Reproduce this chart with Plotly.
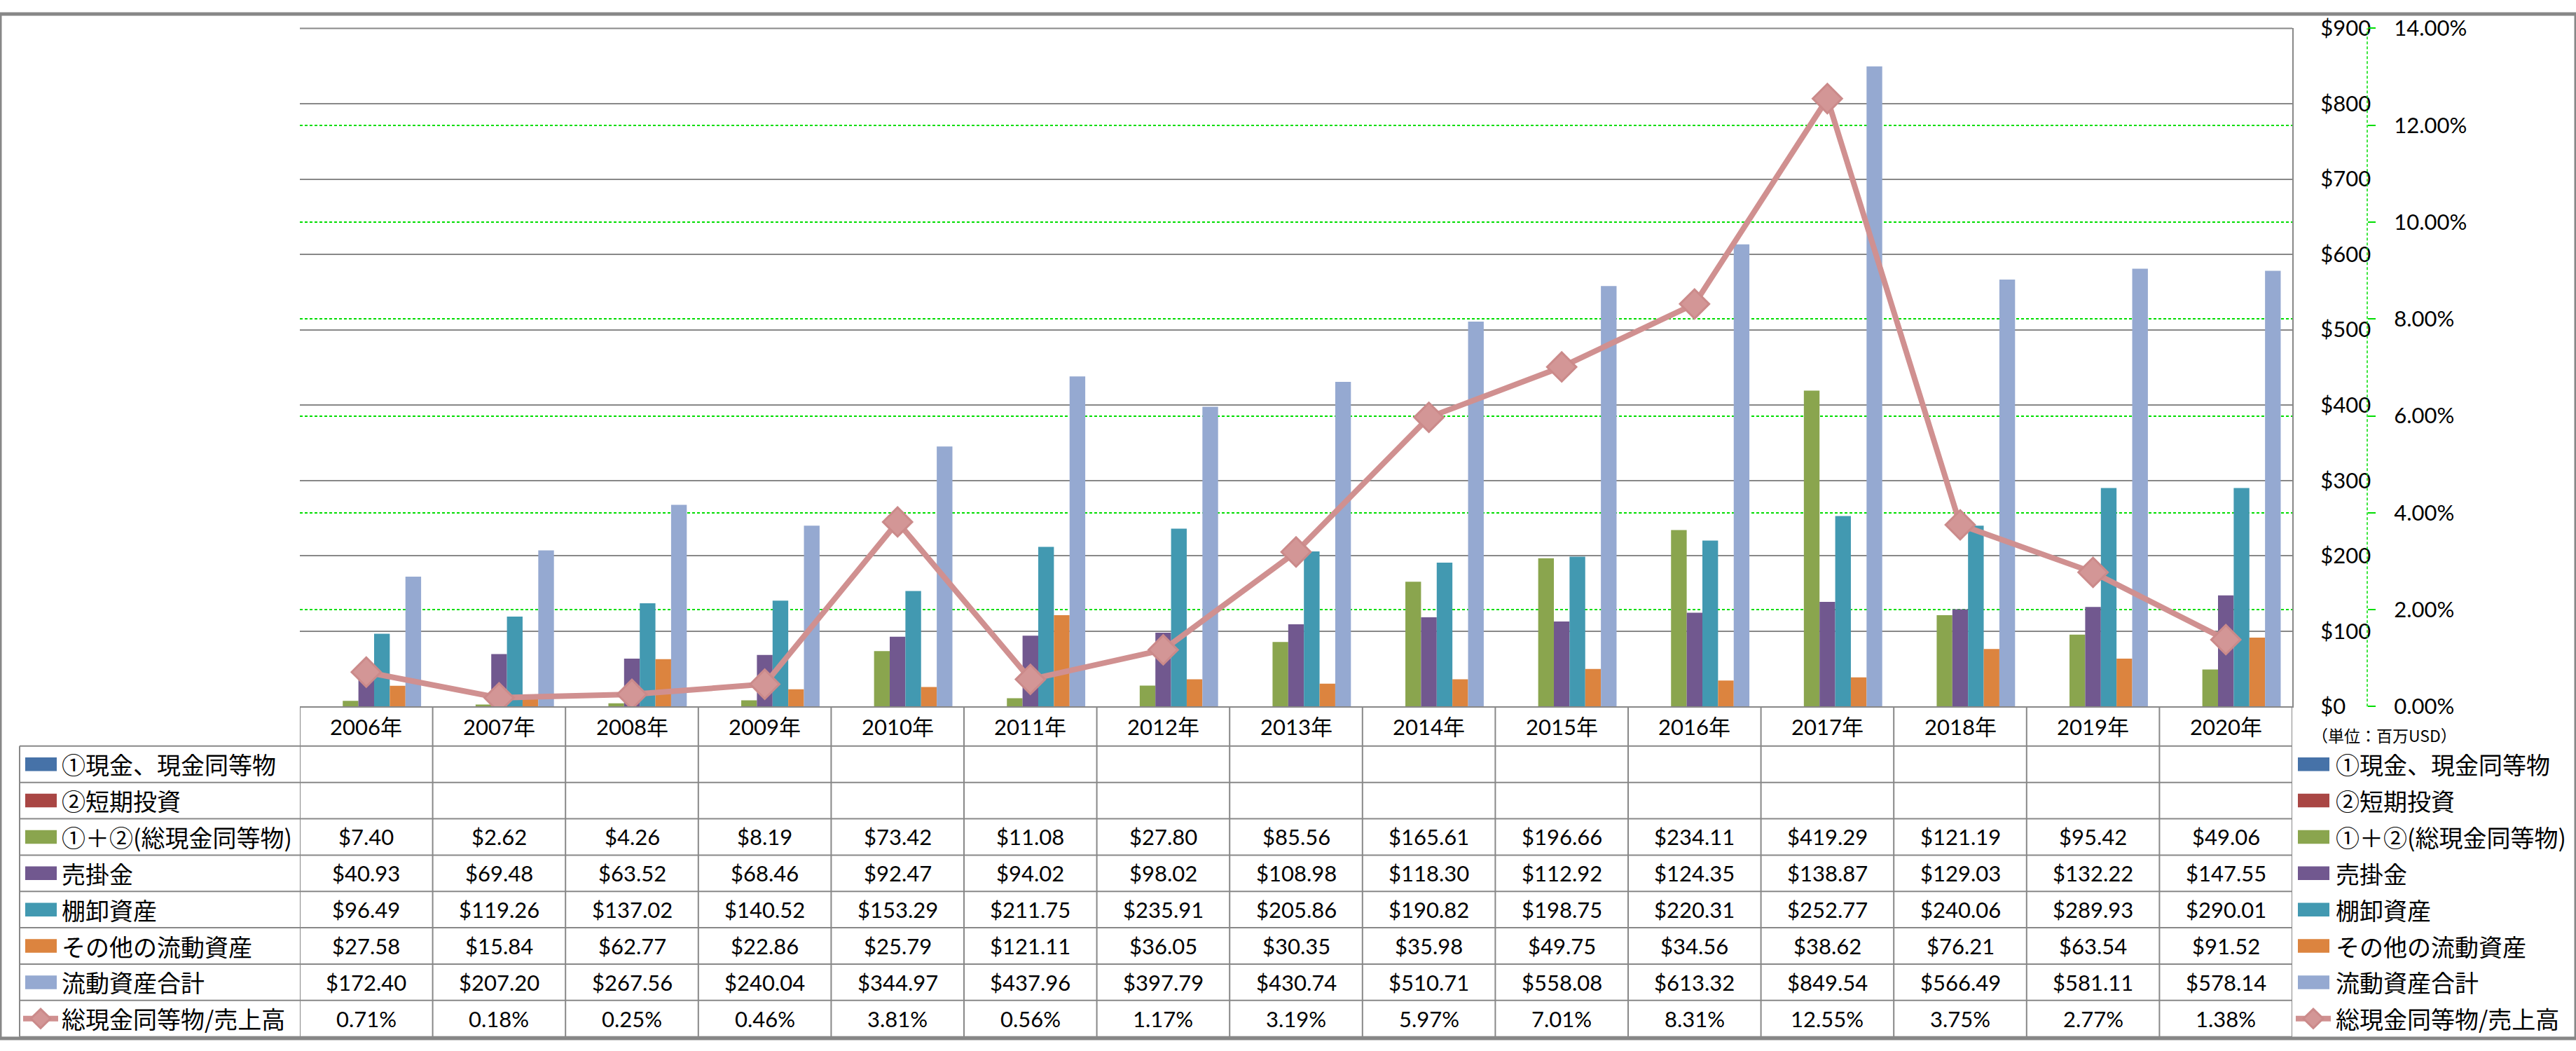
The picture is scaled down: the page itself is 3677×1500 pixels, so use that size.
import plotly.graph_objects as go

# ---------------- data ----------------
years = ["2006年", "2007年", "2008年", "2009年", "2010年", "2011年", "2012年", "2013年",
         "2014年", "2015年", "2016年", "2017年", "2018年", "2019年", "2020年"]

series_names = ["①現金、現金同等物", "②短期投資", "①＋②(総現金同等物)", "売掛金",
                "棚卸資産", "その他の流動資産", "流動資産合計", "総現金同等物/売上高"]

cash_and_equiv = [None] * 15
short_invest = [None] * 15
total_cash = [7.40, 2.62, 4.26, 8.19, 73.42, 11.08, 27.80, 85.56, 165.61, 196.66,
              234.11, 419.29, 121.19, 95.42, 49.06]
receivables = [40.93, 69.48, 63.52, 68.46, 92.47, 94.02, 98.02, 108.98, 118.30, 112.92,
               124.35, 138.87, 129.03, 132.22, 147.55]
inventory = [96.49, 119.26, 137.02, 140.52, 153.29, 211.75, 235.91, 205.86, 190.82, 198.75,
             220.31, 252.77, 240.06, 289.93, 290.01]
other_current = [27.58, 15.84, 62.77, 22.86, 25.79, 121.11, 36.05, 30.35, 35.98, 49.75,
                 34.56, 38.62, 76.21, 63.54, 91.52]
total_current = [172.40, 207.20, 267.56, 240.04, 344.97, 437.96, 397.79, 430.74, 510.71,
                 558.08, 613.32, 849.54, 566.49, 581.11, 578.14]
cash_to_sales_pct = [0.71, 0.18, 0.25, 0.46, 3.81, 0.56, 1.17, 3.19, 5.97, 7.01, 8.31,
                     12.55, 3.75, 2.77, 1.38]

# ---------------- styles ----------------
W, H = 3677, 1500
bar_colors = ["#4672A8", "#A94644", "#8AA54E", "#71588F", "#4299B1", "#DC843F", "#95A9D1"]
LINE_C = "#D09090"
MFILL = "#D39696"
MLINE = "#CB8A8A"
GRAY = "#888888"
GREEN = "#00DD00"
NUM_FONT = "Lato, Noto Sans CJK JP"
JP_FONT = "Noto Sans CJK JP"

PLOT_L, PLOT_R, PLOT_T, PLOT_B = 428, 3272, 21, 1014
TBL_L = 28
ROW_TOP = 1072
ROW_H = 53.2
Y2_AXIS_X = 3379


def fx(px):
    return px / W


def fy(py):
    return 1 - py / H


fig = go.Figure()

bar_series = [cash_and_equiv, short_invest, total_cash, receivables, inventory,
              other_current, total_current]
for name, vals, col in zip(series_names[:7], bar_series, bar_colors):
    fig.add_trace(go.Bar(x=years, y=vals, name=name, marker_color=col,
                         marker_line_width=0))

fig.add_trace(go.Scatter(
    x=years, y=[p / 100 for p in cash_to_sales_pct], name=series_names[7], yaxis="y2",
    mode="lines+markers", line=dict(color=LINE_C, width=8),
    marker=dict(symbol="diamond", size=32, color=MFILL, line=dict(color=MLINE, width=3))))

shapes = []
annotations = []

# outer border
shapes.append(dict(type="rect", xref="paper", yref="paper", x0=0, x1=1, y0=0, y1=1,
                   line=dict(color="#878787", width=5), fillcolor="rgba(0,0,0,0)"))
# top gridline drawn gray on top of green
shapes.append(dict(type="line", xref="paper", yref="paper", x0=fx(PLOT_L), x1=fx(PLOT_R),
                   y0=fy(PLOT_T), y1=fy(PLOT_T), line=dict(color=GRAY, width=2)))
# secondary axis dashed line
shapes.append(dict(type="line", xref="paper", yref="paper", x0=fx(Y2_AXIS_X), x1=fx(Y2_AXIS_X),
                   y0=fy(PLOT_B), y1=fy(PLOT_T), line=dict(color=GREEN, width=1.5, dash="4px,3px")))

# ---------------- data table ----------------
n_rows = 8
row_tops = [ROW_TOP + ROW_H * k for k in range(n_rows + 1)]
for yt in row_tops:
    shapes.append(dict(type="line", xref="paper", yref="paper", x0=fx(TBL_L), x1=fx(PLOT_R),
                       y0=fy(yt), y1=fy(yt), line=dict(color=GRAY, width=2)))
for i in range(len(years) + 1):
    shapes.append(dict(type="line", xref="x", yref="paper", x0=i - 0.5, x1=i - 0.5,
                       y0=fy(PLOT_B), y1=fy(row_tops[-1]), line=dict(color=GRAY, width=2)))
shapes.append(dict(type="line", xref="paper", yref="paper", x0=fx(TBL_L), x1=fx(TBL_L),
                   y0=fy(ROW_TOP), y1=fy(row_tops[-1]), line=dict(color=GRAY, width=2)))

# header years
for yr in years:
    annotations.append(dict(x=yr, xref="x", y=fy((PLOT_B + ROW_TOP) / 2), yref="paper",
                            xanchor="center", yanchor="middle",
                            text=yr, showarrow=False, font=dict(family=NUM_FONT, size=31)))

row_values = [cash_and_equiv, short_invest, total_cash, receivables, inventory,
              other_current, total_current, cash_to_sales_pct]
for r, vals in enumerate(row_values):
    yc = fy(row_tops[r] + ROW_H / 2)
    for yr, v in zip(years, vals):
        if v is None:
            continue
        txt = f"{v:.2f}%" if r == 7 else f"${v:.2f}"
        annotations.append(dict(x=yr, xref="x", y=yc, yref="paper", text=txt,
                                xanchor="center", yanchor="middle",
                                showarrow=False, font=dict(family=NUM_FONT, size=31)))


def legend_key(r, x_left, text_x):
    yc_px = row_tops[r] + ROW_H / 2
    if r < 7:
        shapes.append(dict(type="rect", xref="paper", yref="paper",
                           x0=fx(x_left), x1=fx(x_left + 45),
                           y0=fy(yc_px - 10), y1=fy(yc_px + 10),
                           line=dict(width=0), fillcolor=bar_colors[r]))
    else:
        shapes.append(dict(type="line", xref="paper", yref="paper",
                           x0=fx(x_left - 3), x1=fx(x_left + 47),
                           y0=fy(yc_px), y1=fy(yc_px), line=dict(color=LINE_C, width=8)))
        cx = x_left + 22
        d = 14
        path = (f"M {fx(cx)},{fy(yc_px - d)} L {fx(cx + d)},{fy(yc_px)} "
                f"L {fx(cx)},{fy(yc_px + d)} L {fx(cx - d)},{fy(yc_px)} Z")
        shapes.append(dict(type="path", xref="paper", yref="paper", path=path,
                           fillcolor=MFILL, line=dict(color=MLINE, width=3)))
    annotations.append(dict(x=fx(text_x), xref="paper", xanchor="left",
                            y=fy(yc_px), yref="paper", yanchor="middle",
                            text=series_names[r],
                            showarrow=False, font=dict(family=JP_FONT, size=34)))


for r in range(8):
    legend_key(r, 36, 86)       # table row labels
    legend_key(r, 3280, 3332)   # right legend

annotations.append(dict(x=fx(3298), xref="paper", xanchor="left", y=fy(1056), yref="paper",
                        yanchor="middle", text="（単位：百万USD）", showarrow=False,
                        font=dict(family=JP_FONT, size=23)))

fig.update_layout(
    width=W, height=H, margin=dict(l=0, r=0, t=0, b=0),
    paper_bgcolor="white", plot_bgcolor="white",
    barmode="group", bargap=0.174, bargroupgap=0, showlegend=False,
    font=dict(family=NUM_FONT, size=31, color="black"),
    xaxis=dict(domain=[fx(PLOT_L), fx(PLOT_R)], type="category", range=[-0.5, 14.5],
               showticklabels=False, showgrid=False, ticks="", showline=True,
               linecolor=GRAY, linewidth=2, zeroline=False),
    yaxis=dict(domain=[fy(PLOT_B), fy(PLOT_T)], range=[0, 900], dtick=100, tickprefix="$",
               side="right", showline=True, linecolor=GRAY, linewidth=2,
               showgrid=True, gridcolor=GRAY, gridwidth=2, ticks="", zeroline=False,
               ticklabelstandoff=32, tickfont=dict(family=NUM_FONT, size=31, color="black")),
    yaxis2=dict(overlaying="y", side="right", anchor="free", position=fx(Y2_AXIS_X),
                range=[0, 0.14], dtick=0.02, tickformat=".2%",
                showgrid=True, gridcolor=GREEN, gridwidth=1.5, griddash="4px,3px",
                ticks="outside", ticklen=11, tickwidth=1.5, tickcolor=GREEN,
                showline=False, zeroline=False, ticklabelstandoff=20,
                tickfont=dict(family=NUM_FONT, size=31, color="black")),
    shapes=shapes, annotations=annotations,
)

fig.write_html("out.html", config={"displayModeBar": False},
               post_script="document.body.style.margin='0px';document.body.style.overflow='hidden';")
